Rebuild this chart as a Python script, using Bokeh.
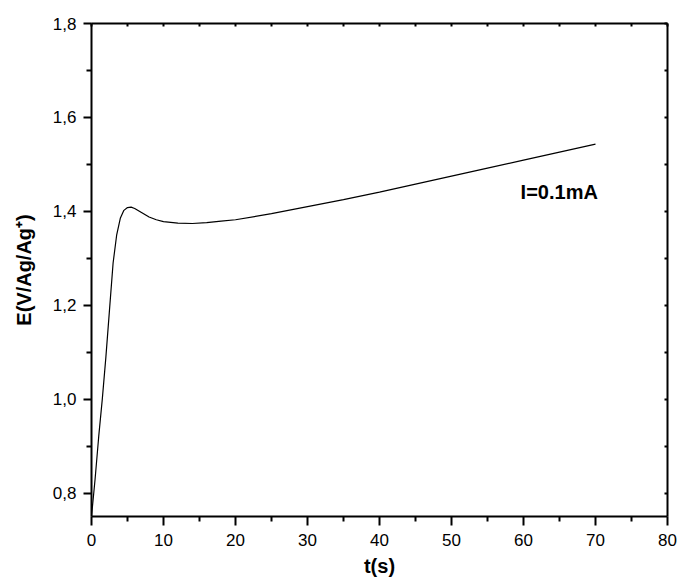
from bokeh.plotting import figure
from bokeh.models import (LinearAxis, FixedTicker, CustomJSTickFormatter, Label, Range1d)
from bokeh.embed import file_html
from bokeh.resources import INLINE

# ---- data ----
t_s = [0, 0.5, 1.0, 1.5, 2.0, 2.5, 3.0, 3.5, 4.0, 4.5, 5.0, 5.5, 6.0, 7.0, 8.0,
       9.0, 10, 12, 14, 16, 18, 20, 25, 30, 35, 40, 45, 50, 55, 60, 65, 70]
E_V = [0.75, 0.83, 0.92, 1.00, 1.09, 1.19, 1.29, 1.35, 1.385, 1.402, 1.408, 1.409,
       1.406, 1.397, 1.388, 1.382, 1.378, 1.375, 1.374, 1.376, 1.379, 1.382, 1.395,
       1.410, 1.425, 1.441, 1.458, 1.475, 1.492, 1.509, 1.526, 1.543]

x_major = [0, 10, 20, 30, 40, 50, 60, 70, 80]
x_minor = [5, 15, 25, 35, 45, 55, 65, 75]
y_major = [0.8, 1.0, 1.2, 1.4, 1.6, 1.8]
y_minor = [0.9, 1.1, 1.3, 1.5, 1.7]
x_label = "t(s)"
y_label = "E(V/Ag/Ag\u207A)"
annotation = "I=0.1mA"

FONT = "Liberation Sans"

p = figure(width=677, height=579, output_backend="svg", toolbar_location=None,
           x_range=Range1d(0, 80), y_range=Range1d(0.75, 1.8),
           min_border_left=91, min_border_right=10, min_border_top=23,
           min_border_bottom=62)
p.grid.visible = False
p.outline_line_color = None
p.background_fill_color = "white"
p.border_fill_color = "white"

p.line(t_s, E_V, line_color="black", line_width=1.2)

fmt_y = CustomJSTickFormatter(code="return tick.toFixed(1).replace('.', ',');")
fmt_blank = CustomJSTickFormatter(code="return '';")

def style_axis(ax):
    ax.axis_line_width = 2
    ax.axis_line_color = "black"
    ax.major_tick_line_width = 2
    ax.minor_tick_line_width = 2
    ax.major_tick_line_color = "black"
    ax.minor_tick_line_color = "black"
    ax.major_label_text_font = FONT
    ax.major_label_text_font_size = "17px"
    ax.major_label_text_color = "black"
    ax.axis_label_text_font = FONT
    ax.axis_label_text_font_style = "bold"
    ax.axis_label_text_font_size = "20px"
    ax.axis_label_text_color = "black"

xa = p.xaxis[0]
xa.ticker = FixedTicker(ticks=x_major, minor_ticks=x_minor)
style_axis(xa)
xa.major_tick_out = 9
xa.major_tick_in = 0
xa.minor_tick_out = 5
xa.minor_tick_in = 0
xa.major_label_standoff = 8
xa.axis_label = x_label
xa.axis_label_standoff = 6

ya = p.yaxis[0]
ya.ticker = FixedTicker(ticks=y_major, minor_ticks=y_minor)
ya.formatter = fmt_y
style_axis(ya)
ya.major_tick_out = 8
ya.major_tick_in = 0
ya.minor_tick_out = 5
ya.minor_tick_in = 0
ya.major_label_standoff = 7
ya.axis_label = y_label
ya.axis_label_standoff = 15

# right and top frame axes with small inward ticks, no labels
ra = LinearAxis(ticker=FixedTicker(ticks=y_major, minor_ticks=y_minor),
                formatter=fmt_blank)
style_axis(ra)
ra.major_tick_in = 3
ra.major_tick_out = 0
ra.minor_tick_in = 3
ra.minor_tick_out = 0
ra.major_label_standoff = 0
p.add_layout(ra, "right")

ta = LinearAxis(ticker=FixedTicker(ticks=x_major, minor_ticks=x_minor),
                formatter=fmt_blank)
style_axis(ta)
ta.major_tick_in = 3
ta.major_tick_out = 0
ta.minor_tick_in = 3
ta.minor_tick_out = 0
ta.major_label_standoff = 0
p.add_layout(ta, "above")

p.add_layout(Label(x=59.6, y=1.4415, text=annotation, text_font=FONT,
                   text_font_style="bold", text_font_size="20px",
                   text_color="black", text_align="left",
                   text_baseline="alphabetic"))

open("out.html", "w").write(file_html(p, INLINE))
